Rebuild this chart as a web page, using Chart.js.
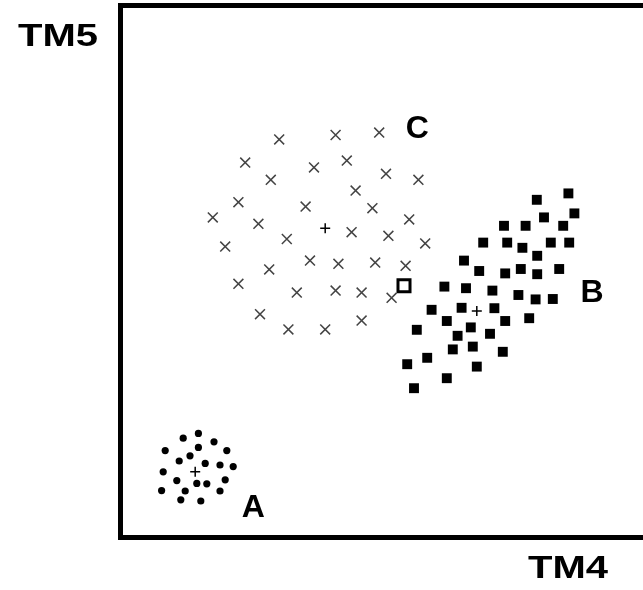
<!DOCTYPE html>
<html>
<head>
<meta charset="utf-8">
<script src="https://cdn.jsdelivr.net/npm/chart.js@4"></script>
<style>
  body { margin: 0; background: #fff; overflow: hidden; }
</style>
</head>
<body>
<canvas id="myChart" width="643" height="590"></canvas>
<script>
// cluster A (dots)
var clusterA_x = [19.6, 15.8, 23.5, 11.3, 19.6, 26.7, 17.5, 14.8, 21.3, 25.0, 28.3,
  10.8, 14.2, 19.2, 21.7, 26.3, 10.4, 16.3, 25.0, 15.2, 20.2];
var clusterA_y = [25.9, 24.7, 23.8, 21.6, 22.4, 21.6, 20.3, 19.0, 18.4, 18.0, 17.6,
  16.3, 14.1, 13.4, 13.3, 14.3, 11.6, 11.5, 11.5, 9.3, 9.0];

// cluster B (filled squares)
var clusterB_x = [104.2, 112.1, 106.0, 113.6, 96.0, 101.4, 110.8, 90.8, 96.8, 100.6, 107.7,
  112.3, 104.3, 86.0, 89.8, 96.3, 100.2, 104.3, 109.8, 81.1, 86.5, 93.1, 99.6, 103.9,
  108.2, 77.9, 85.4, 93.6, 81.7, 87.7, 96.3, 102.3, 74.2, 84.4, 92.5, 83.2, 88.2, 95.7,
  76.8, 71.8, 89.2, 81.7, 73.5];
var clusterB_y = [84.3, 85.9, 79.9, 80.9, 77.8, 77.8, 77.8, 73.6, 73.6, 72.3, 73.6,
  73.6, 70.3, 69.1, 66.5, 65.9, 67.0, 65.7, 67.0, 62.6, 62.2, 61.6, 60.5, 59.4,
  59.5, 56.8, 57.3, 57.2, 54.0, 52.4, 54.0, 54.7, 51.8, 50.3, 50.8, 46.9, 47.6, 46.3,
  44.8, 43.2, 42.6, 39.7, 37.2];

// cluster C (crosses)
var clusterC_x = [39.8, 53.9, 64.8, 31.3, 48.5, 56.7, 66.5, 74.6, 37.7, 58.9, 29.6, 46.4,
  63.1, 23.2, 34.6, 72.3, 57.9, 41.7, 67.1, 76.3, 26.3, 47.5, 54.6, 63.8, 71.4, 37.3,
  29.6, 44.2, 53.9, 60.4, 67.9, 35.0, 42.1, 51.3, 60.4];
var clusterC_y = [99.4, 100.5, 101.1, 93.6, 92.4, 94.1, 90.8, 89.3, 89.3, 86.6, 83.7, 82.6,
  82.2, 79.9, 78.3, 79.4, 76.2, 74.5, 75.3, 73.4, 72.6, 69.1, 68.3, 68.6, 67.8, 66.9,
  63.3, 61.1, 61.6, 61.1, 59.8, 55.7, 51.9, 51.9, 54.1];

// cluster means
var meanX = [18.8, 89.2, 51.3];
var meanY = [16.3, 56.5, 77.2];

// unknown pixel
var pixelX = [71.0];
var pixelY = [62.8];

// class labels
var labelNames = ['A', 'B', 'C'];
var labelX = [33.3, 118.0, 74.3];
var labelY = [7.3, 61.0, 102.0];

function pts(xs, ys) {
  return xs.map(function (x, i) { return { x: x, y: ys[i] }; });
}

var textPlugin = {
  id: 'textPlugin',
  afterDraw: function (chart) {
    var c = chart.ctx;
    var xs = chart.scales.x, ys = chart.scales.y;
    var area = chart.chartArea;
    c.save();
    c.fillStyle = '#000';
    c.textAlign = 'center';
    c.textBaseline = 'middle';
    c.font = 'bold 32px "Liberation Sans", Arial, sans-serif';
    for (var i = 0; i < labelNames.length; i++) {
      c.fillText(labelNames[i], xs.getPixelForValue(labelX[i]), ys.getPixelForValue(labelY[i]));
    }
    function wide(t, x, y) {
      c.save();
      c.translate(x, y);
      c.scale(1.25, 1);
      c.fillText(t, 0, 0);
      c.restore();
    }
    wide('TM5', area.left - 62, area.top + 32);
    wide('TM4', xs.getPixelForValue(112), area.bottom + 32);
    c.restore();
  }
};

var ctx = document.getElementById('myChart').getContext('2d');
var myChart = new Chart(ctx, {
  type: 'scatter',
  data: {
    datasets: [{
      label: 'A',
      data: pts(clusterA_x, clusterA_y),
      pointStyle: 'circle',
      pointRadius: 3.6,
      backgroundColor: '#000',
      borderColor: '#000',
      borderWidth: 0
    },
    {
      label: 'B',
      data: pts(clusterB_x, clusterB_y),
      pointStyle: 'rect',
      pointRadius: 7,
      backgroundColor: '#000',
      borderColor: '#000',
      borderWidth: 0
    },
    {
      label: 'C',
      data: pts(clusterC_x, clusterC_y),
      pointStyle: 'crossRot',
      pointRadius: 7,
      borderColor: '#444',
      borderWidth: 1.5
    },
    {
      label: 'means',
      data: pts(meanX, meanY),
      pointStyle: 'cross',
      pointRadius: 5,
      borderColor: '#000',
      borderWidth: 1.5
    },
    {
      label: 'pixel',
      data: pts(pixelX, pixelY),
      pointStyle: 'rect',
      pointRadius: 8.5,
      backgroundColor: '#fff',
      borderColor: '#000',
      borderWidth: 3
    }]
  },
  options: {
    responsive: false,
    animation: false,
    events: [],
    layout: { autoPadding: false, padding: { left: 120, top: 5, right: 0, bottom: 53 } },
    plugins: {
      legend: { display: false },
      tooltip: { enabled: false }
    },
    scales: {
      x: {
        type: 'linear', min: 0, max: 130.75,
        grid: { display: false, drawTicks: false },
        ticks: { display: false },
        border: { display: true, color: '#000', width: 5 }
      },
      x2: {
        type: 'linear', position: 'top', min: 0, max: 130.75,
        grid: { display: false, drawTicks: false },
        ticks: { display: false },
        border: { display: true, color: '#000', width: 5 }
      },
      y: {
        type: 'linear', min: 0, max: 133,
        grid: { display: false, drawTicks: false },
        ticks: { display: false },
        border: { display: true, color: '#000', width: 5 }
      }
    }
  },
  plugins: [textPlugin]
});
</script>
</body>
</html>
